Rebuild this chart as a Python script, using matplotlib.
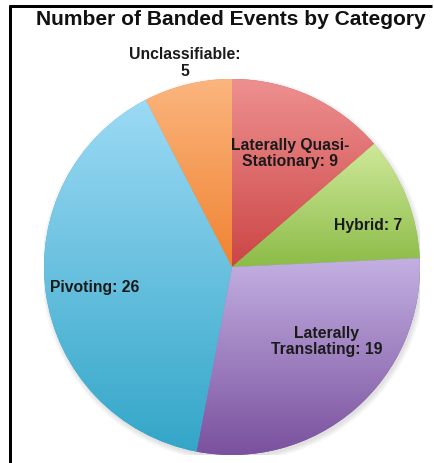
import numpy as np
import matplotlib
matplotlib.use("Agg")
import matplotlib.pyplot as plt
from matplotlib.colors import LinearSegmentedColormap
from matplotlib.lines import Line2D
from matplotlib.patches import Circle

# ---- data ----
categories = ["Laterally Quasi-\nStationary", "Hybrid", "Laterally\nTranslating", "Pivoting", "Unclassifiable"]
counts = [9, 7, 19, 26, 5]
separators = [": ", ": ", ": ", ": ", ":\n"]
title = "Number of Banded Events by Category"

# ---- style ----
top_colors = ["#ee9090", "#cfe99a", "#c3b0e2", "#9cdaf5", "#fbb57e"]
bottom_colors = ["#cc4545", "#8cbc48", "#7a519e", "#33a6c8", "#f08332"]
label_pos = [(0.31, 0.61), (0.725, 0.225), (0.505, -0.39), (-0.73, -0.105), (-0.25, 1.09)]

plt.rcParams["font.family"] = ["Liberation Sans", "DejaVu Sans"]

W, H = 435, 464
fig = plt.figure(figsize=(W / 100, H / 100), dpi=100)
fig.patch.set_facecolor("white")

cx, cy, r = 232, 268, 188
ax = fig.add_axes([(cx - r) / W, (H - cy - r) / H, 2 * r / W, 2 * r / H])
ax.axis("off")

# soft shadow
for k in range(6):
    ax.add_patch(Circle((0.008, -0.014), 1.0 + 0.005 * k, color="black",
                        alpha=0.02, lw=0, zorder=0))

wedges, _ = ax.pie(counts, startangle=90, counterclock=False, radius=1,
                   colors=bottom_colors, wedgeprops=dict(linewidth=0))

grad = np.linspace(0, 1, 256).reshape(-1, 1)
for w, ct, cb in zip(wedges, top_colors, bottom_colors):
    w.set_zorder(1)
    ext = w.get_path().get_extents()
    cmap = LinearSegmentedColormap.from_list("g", [cb, ct])
    im = ax.imshow(grad, extent=[ext.x0, ext.x1, ext.y0, ext.y1], origin="lower",
                   cmap=cmap, aspect="auto", zorder=2, interpolation="bilinear")
    im.set_clip_path(w)

ax.set_xlim(-1, 1)
ax.set_ylim(-1, 1)
ax.set_aspect("equal")

for cat, n, sep, (lx, ly) in zip(categories, counts, separators, label_pos):
    ax.text(lx, ly, f"{cat}{sep}{n}", ha="center", va="center", fontsize=11.3,
            fontweight="bold", color="#1a1a1a", linespacing=1.1, zorder=5,
            clip_on=False)

fig.text(231 / W, 1 - 19.5 / H, title, ha="center", va="center",
         fontsize=15.1, fontweight="bold", color="#111111")

# frame lines (top and left)
lw = 3 * 72 / 100
fig.add_artist(Line2D([9 / W, 432 / W], [1 - 7 / H, 1 - 7 / H], color="black",
                      lw=lw, transform=fig.transFigure, solid_capstyle="butt"))
fig.add_artist(Line2D([10.5 / W, 10.5 / W], [1 - 5.5 / H, 0], color="black",
                      lw=lw, transform=fig.transFigure, solid_capstyle="butt"))

fig.savefig("out.png", dpi=100, facecolor="white")
